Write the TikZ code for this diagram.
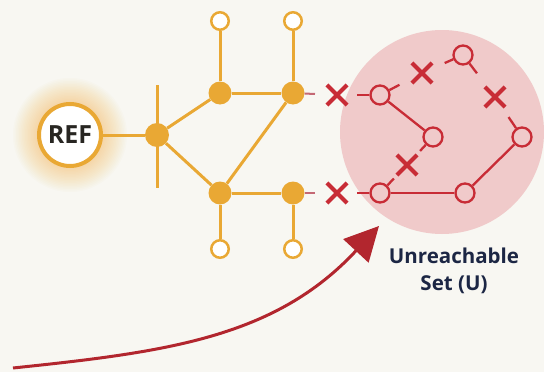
\documentclass[tikz,border=0pt]{standalone}
\usepackage{fontspec}
\setmainfont{Open Sans}
\usetikzlibrary{shapes.misc,arrows.meta,calc}
\definecolor{bgc}{RGB}{248,247,242}
\definecolor{gold}{RGB}{233,168,52}
\definecolor{glowc}{RGB}{245,175,60}
\definecolor{pinkc}{RGB}{240,202,202}
\definecolor{redc}{RGB}{200,44,54}
\definecolor{mauve}{RGB}{196,104,116}
\definecolor{arrowc}{RGB}{178,38,46}
\definecolor{navy}{RGB}{28,38,68}
\definecolor{inkc}{RGB}{40,38,34}
\begin{document}
\begin{tikzpicture}[x=1pt,y=-1pt,
  gfill/.style={circle,fill=gold,minimum size=23pt,inner sep=0pt},
  ghollow/.style={circle,draw=gold,line width=2.5pt,fill=white,minimum size=17.5pt,inner sep=0pt},
  rhollow/.style={circle,draw=redc,line width=2.3pt,minimum size=19pt,inner sep=0pt},
  xmark/.style={cross out,draw=redc,line width=4.2pt,minimum size=16pt,inner sep=0pt},
  gedge/.style={draw=gold,line width=3pt},
  redge/.style={draw=redc,line width=2.3pt},
  gstub/.style={draw=mauve,line width=2pt},
  rstub/.style={draw=redc,line width=2.3pt},
  refnode/.style={circle,draw=gold,line width=4pt,fill=white,minimum size=62pt,inner sep=0pt,
    text=inkc,font=\bfseries\fontsize{25}{27}\selectfont},
  lbl/.style={align=center,text=navy,font=\bfseries\fontsize{20.5}{27}\selectfont}
]
\useasboundingbox (0,0) rectangle (544,372);
\fill[bgc] (0,0) rectangle (544,372);

% unreachable region
\coordinate (uc) at (442,132);
\fill[pinkc] (uc) circle (102);

% soft glow behind the reference node
\coordinate (refc) at (70,135);
\foreach \r in {33,34.5,...,58} {\fill[glowc,opacity=0.028] (refc) circle (\r);}

% vertical bar through the hub
\coordinate (vtop) at (157,85);
\coordinate (vbot) at (157,188);
\draw[gedge] (vtop) -- (vbot);

% reachable part
\node[refnode] (REF) at (refc) {REF};
\node[gfill,minimum size=24pt] (A) at (157,135) {};
\node[gfill] (B) at (220,93) {};
\node[gfill] (C) at (293,93) {};
\node[gfill] (D) at (220,193) {};
\node[gfill] (E) at (293,193) {};
\node[ghollow] (TB) at (220,21) {};
\node[ghollow] (TC) at (293,21) {};
\node[ghollow] (BB) at (220,249) {};
\node[ghollow] (BC) at (293,249) {};

\draw[gedge] (REF) -- (A);
\draw[gedge] (A) -- (B);
\draw[gedge] (A) -- (D);
\draw[gedge] (B) -- (C);
\draw[gedge] (D) -- (E);
\draw[gedge] (C) -- (D);
\draw[gedge] (B) -- (TB);
\draw[gedge] (C) -- (TC);
\draw[gedge] (D) -- (BB);
\draw[gedge] (E) -- (BC);

% unreachable part
\node[rhollow] (R1) at (380,95) {};
\node[rhollow] (R2) at (463,55) {};
\node[rhollow] (R3) at (433,137) {};
\node[rhollow] (R4) at (522,137) {};
\node[rhollow] (R5) at (380,193) {};
\node[rhollow] (R6) at (465,193) {};

\draw[redge] (R1) -- (R3);
\draw[redge] (R5) -- (R6);
\draw[redge] (R6) -- (R4);

% cut links
\node[xmark] (X0) at (337,95) {};
\node[xmark] (X5) at (337,193) {};
\node[xmark] (X1) at (422,73) {};
\node[xmark] (X2) at (495,97) {};
\node[xmark] (X3) at (407,165) {};

\draw[gstub] (C) -- ($(C)!22pt!(X0)$);
\draw[gstub] (E) -- ($(E)!22pt!(X5)$);
\draw[rstub] (R1) -- ($(R1)!23pt!(X0)$);
\draw[rstub] (R5) -- ($(R5)!23pt!(X5)$);
\draw[rstub] (R1) -- ($(R1)!22pt!(X1)$);
\draw[rstub] (R2) -- ($(R2)!20pt!(X1)$);
\draw[rstub] (R2) -- ($(R2)!23pt!(X2)$);
\draw[rstub] (R4) -- ($(R4)!24pt!(X2)$);
\draw[rstub] (R3) -- ($(R3)!19pt!(X3)$);
\draw[rstub] (R5) -- ($(R5)!20pt!(X3)$);

% label and pointer
\node[lbl] (L) at (454,271) {Unreachable\\Set (U)};
\coordinate (as) at (13,368);
\coordinate (ae) at (379,226);
\draw[arrowc,line width=3pt,-{Triangle[length=34pt,width=34pt]}]
  (as) .. controls (166,352) and (275,338) .. (ae);
\end{tikzpicture}
\end{document}
